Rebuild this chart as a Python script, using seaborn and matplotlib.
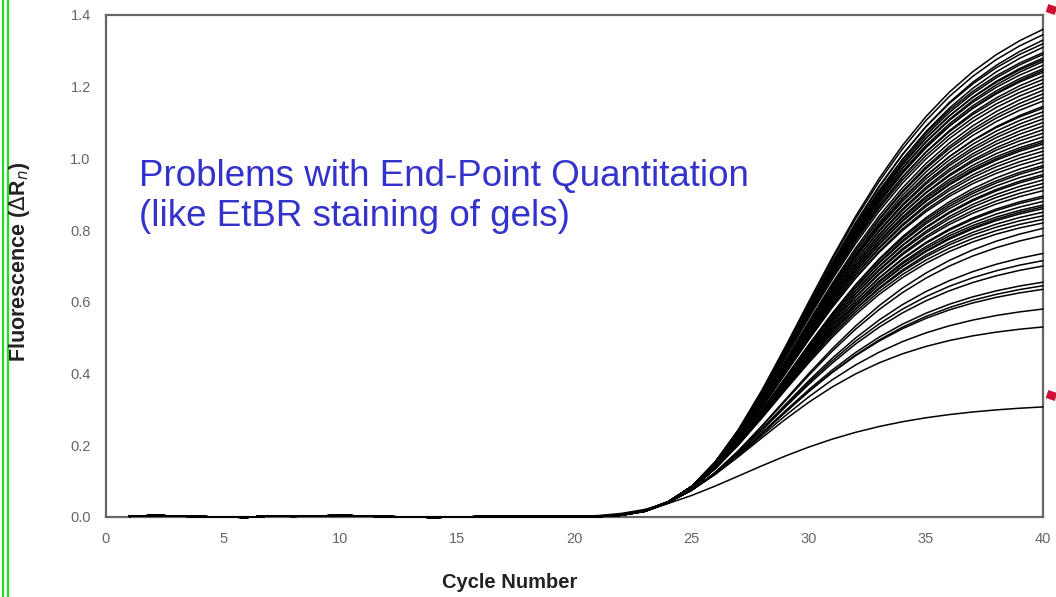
import numpy as np
import pandas as pd
import matplotlib
matplotlib.use("Agg")
import matplotlib.pyplot as plt
from matplotlib.lines import Line2D
import seaborn as sns

# ---------------- data ----------------
cycles = list(range(1, 41))

# fluorescence of each well at cycle 40 (end point)
end_values = [1.36, 1.345, 1.33, 1.32, 1.31, 1.295, 1.29, 1.28, 1.275, 1.27,
              1.26, 1.25, 1.245, 1.24, 1.23, 1.22, 1.21, 1.20, 1.19, 1.18,
              1.17, 1.16, 1.145, 1.14, 1.13, 1.12, 1.11, 1.10, 1.09, 1.08,
              1.07, 1.06, 1.05, 1.045, 1.04, 1.03, 1.02, 1.01, 1.00, 0.99,
              0.98, 0.975, 0.965, 0.955, 0.95, 0.94, 0.93, 0.92, 0.91, 0.895,
              0.89, 0.88, 0.87, 0.865, 0.86, 0.85, 0.84, 0.83, 0.82,
              0.805, 0.785, 0.735, 0.715, 0.70, 0.655, 0.645, 0.635, 0.58,
              0.53, 0.307]

# fluorescence of each well at cycle 30
mid_values = [0.60, 0.596, 0.585, 0.59, 0.58, 0.585, 0.58, 0.575, 0.58, 0.57,
              0.575, 0.57, 0.565, 0.57, 0.56, 0.565, 0.56, 0.555, 0.545, 0.54,
              0.54, 0.535, 0.53, 0.535, 0.53, 0.525, 0.525, 0.52, 0.52, 0.515,
              0.515, 0.51, 0.51, 0.505, 0.505, 0.50, 0.50, 0.495, 0.495, 0.48,
              0.48, 0.475, 0.475, 0.47, 0.47, 0.465, 0.465, 0.46, 0.46, 0.455,
              0.455, 0.45, 0.45, 0.445, 0.445, 0.44, 0.44, 0.435, 0.43,
              0.40, 0.395, 0.38, 0.375, 0.37, 0.355, 0.35, 0.35, 0.335,
              0.32, 0.195]

# fluorescence of each well at cycle 25
early_values = [0.085] * 30 + [0.08] * 29 + [0.075] * 10 + [0.06]

# shared baseline wiggle for cycles 1..40
baseline = [0.002, 0.004, 0.003, 0.001, 0.000, -0.001, 0.003, 0.002, 0.003, 0.004,
            0.003, 0.001, 0.000, -0.001, 0.000, 0.001, 0.001, 0.001, 0.001, 0.001,
            0.0, 0.0, 0.0, 0.0, 0.0, 0.0, 0.0, 0.0, 0.0, 0.0,
            0.0, 0.0, 0.0, 0.0, 0.0, 0.0, 0.0, 0.0, 0.0, 0.0]

x_ticks = [0, 5, 10, 15, 20, 25, 30, 35, 40]
y_ticks = [0.0, 0.2, 0.4, 0.6, 0.8, 1.0, 1.2, 1.4]

annotation = "Problems with End-Point Quantitation\n(like EtBR staining of gels)"


# -------- Gompertz amplification curve through the three readings --------
def gompertz_through(y25, y30, y40):
    def g(y, A):
        return np.log(-np.log(y / A))

    def f(A):
        return 2 * (g(y25, A) - g(y30, A)) - (g(y30, A) - g(y40, A))

    lo, hi = y40 * 1.00001, y40 * 6.0
    for _ in range(80):
        m = 0.5 * (lo + hi)
        if f(m) > 0:
            hi = m
        else:
            lo = m
    A = 0.5 * (lo + hi)
    b = g(y25, A)
    r = (g(y25, A) - g(y30, A)) / 5.0
    return A, b, r


c = np.array(cycles, dtype=float)
rows = []
for i, (e, m, s) in enumerate(zip(end_values, mid_values, early_values)):
    A, b, r = gompertz_through(s, m, e)
    y = A * np.exp(-np.exp(b - r * (c - 25))) + np.array(baseline)
    for ci, yi in zip(cycles, y):
        rows.append((i, ci, yi))
df = pd.DataFrame(rows, columns=["well", "cycle", "fluor"])

# ---------------- drawing ----------------
sns.set_style("white")
plt.rcParams["font.family"] = ["Liberation Sans Narrow", "Liberation Sans", "DejaVu Sans"]

W, H = 1056, 597
fig = plt.figure(figsize=(W / 100, H / 100), dpi=100)
ax = fig.add_axes([106 / W, 80 / H, (1043 - 106) / W, (517 - 15) / H])

sns.lineplot(data=df, x="cycle", y="fluor", units="well", estimator=None,
             color="black", lw=1.1, ax=ax, legend=False)
for ln in ax.lines:
    ln.set_zorder(3)
    ln.set_clip_on(False)

ax.set_xlim(0, 40)
ax.set_ylim(0, 1.4)
ax.set_xticks(x_ticks)
ax.set_yticks(y_ticks)
ax.set_yticklabels([f"{v:.1f}" for v in y_ticks])
ax.set_xlabel("")
ax.set_ylabel("")
for sp in ax.spines.values():
    sp.set_visible(True)
    sp.set_color("#666666")
    sp.set_linewidth(1.6)
ax.tick_params(axis="both", direction="inout", length=6, width=1.3,
               color="#444444", labelcolor="#666666", labelsize=10.5)
ax.tick_params(axis="x", pad=8)
ax.tick_params(axis="y", pad=8)

fig.text(510 / W, 1 - 583 / H, "Cycle Number", ha="center", va="center",
         fontsize=14.5, fontweight="bold", color="#222222")
fig.text(20 / W, 1 - 262 / H, "Fluorescence ($\\Delta$R$_n$)", ha="center", va="center",
         rotation=90, fontsize=15.5, fontweight="bold", color="#222222")

fig.text(139 / W, 1 - 159 / H, annotation, ha="left", va="top",
         fontsize=26.5, color="#3333cc", linespacing=1.17,
         family=["Liberation Sans", "DejaVu Sans"])

# decorative frame remnants
for xp in (2.5, 7.5):
    fig.add_artist(Line2D([xp / W, xp / W], [0, 1], color="#22dd22", lw=1.6,
                          transform=fig.transFigure))
for y0 in (9, 395):
    fig.add_artist(Line2D([1047 / W, 1056 / W], [1 - (y0 - 1) / H, 1 - (y0 + 2) / H],
                          color="#cc1133", lw=6, solid_capstyle="butt",
                          transform=fig.transFigure))

fig.savefig("out.png", dpi=100)
